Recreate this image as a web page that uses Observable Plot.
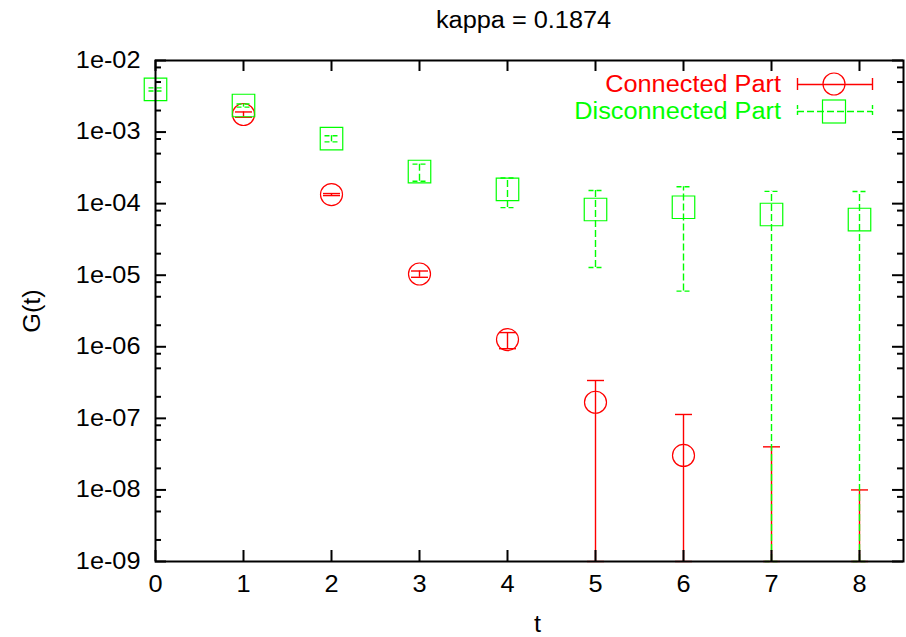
<!DOCTYPE html>
<html>
<head>
<meta charset="utf-8">
<script src="https://cdn.jsdelivr.net/npm/d3@7"></script>
<script src="https://cdn.jsdelivr.net/npm/@observablehq/plot@0.6"></script>
<style>
  html, body { margin: 0; padding: 0; background: #fff; }
  #chart { width: 906px; height: 637px; }
</style>
</head>
<body>
<div id="chart"></div>
<script>
// ---- data ----
const title = "kappa = 0.1874";
const seriesNames = ["Connected Part", "Disconnected Part"];
const seriesColors = ["#ff0000", "#00ff00"];
const xLabel = "t";
const yLabel = "G(t)";

const tValues = [0, 1, 2, 3, 4, 5, 6, 7, 8];
const connectedValue = [null, 1.76e-3, 1.34e-4, 1.04e-5, 1.26e-6, 1.68e-7, 3.03e-8, -1.0e-8, -1.0e-8];
const connectedError = [null, 1.5e-4, 4.4e-6, 1.05e-6, 3.2e-7, 1.7e-7, 8.3e-8, 5.0e-8, 2.0e-8];
const disconnectedValue = [3.94e-3, 2.35e-3, 8.1e-4, 2.81e-4, 1.58e-4, 8.28e-5, 8.9e-5, 7.05e-5, 6.0e-5];
const disconnectedError = [2.0e-4, 1.2e-4, 8.0e-5, 7.5e-5, 7.0e-5, 7.0e-5, 8.3e-5, 7.8e-5, 8.8e-5];

const xTicks = [0, 1, 2, 3, 4, 5, 6, 7, 8];
const xTickLabels = ["0", "1", "2", "3", "4", "5", "6", "7", "8"];
const yTicks = [1e-2, 1e-3, 1e-4, 1e-5, 1e-6, 1e-7, 1e-8, 1e-9];
const yTickLabels = ["1e-02", "1e-03", "1e-04", "1e-05", "1e-06", "1e-07", "1e-08", "1e-09"];
const yMinorFactors = [2, 5, 8];

// ---- layout ----
const W = 906, H = 637;
const mL = 155, mR = 3, mT = 60, mB = 76;
const innerW = W - mL - mR, innerH = H - mT - mB;
const yMin = 1e-9, yMax = 1e-2;

function rows(values, errors) {
  return tValues.map((t, i) => {
    const v = values[i], e = errors[i];
    if (v == null) return null;
    const hi = v + e, lo = v - e;
    return { t, v, hi, lo: lo > yMin ? lo : yMin };
  }).filter(d => d != null);
}
const conn = rows(connectedValue, connectedError);
const disc = rows(disconnectedValue, disconnectedError);

const yMinor = [];
yTicks.slice(1).forEach(d => yMinorFactors.forEach(f => yMinor.push(d * f)));

const capSymbol = {
  draw(context, size) {
    const w = Math.sqrt(size / Math.PI);
    context.moveTo(-w, 0);
    context.lineTo(w, 0);
  }
};

const font = '"Liberation Sans", Arial, Helvetica, sans-serif';
const red = seriesColors[0], green = seriesColors[1];
const dash = "7,3";
const lw = 1.4;

const chart = Plot.plot({
  width: W, height: H,
  marginLeft: mL, marginRight: mR, marginTop: mT, marginBottom: mB,
  style: { fontFamily: font, fontSize: "23px", background: "#fff", color: "#000" },
  x: { domain: [0, 8.5] },
  y: { type: "log", domain: [yMin, yMax] },
  marks: [
    // connected error bars
    Plot.ruleX(conn, { x: "t", y1: "lo", y2: "hi", stroke: red, strokeWidth: lw }),
    Plot.dot(conn, { x: "t", y: "hi", symbol: capSymbol, r: 8.5, stroke: red, fill: "none", strokeWidth: lw }),
    Plot.dot(conn, { x: "t", y: "lo", symbol: capSymbol, r: 8.5, stroke: red, fill: "none", strokeWidth: lw }),
    Plot.dot(conn, { x: "t", y: "v", r: 11, stroke: red, fill: "none", strokeWidth: 1.2 }),
    // disconnected error bars
    Plot.ruleX(disc, { x: "t", y1: "lo", y2: "hi", stroke: green, strokeWidth: lw, strokeDasharray: dash }),
    Plot.dot(disc, { x: "t", y: "hi", symbol: capSymbol, r: 7, stroke: green, fill: "none", strokeWidth: lw, strokeDasharray: "5,3" }),
    Plot.dot(disc, { x: "t", y: "lo", symbol: capSymbol, r: 7, stroke: green, fill: "none", strokeWidth: lw, strokeDasharray: "5,3" }),
    Plot.dot(disc, { x: "t", y: "v", symbol: "square", r: 12.7, stroke: green, fill: "none", strokeWidth: 1.2 }),
    // inward ticks (mirrored on all sides)
    Plot.tickY(yTicks, { y: d => d, insetRight: innerW - 11, stroke: "#000", strokeWidth: 2 }),
    Plot.tickY(yTicks, { y: d => d, insetLeft: innerW - 11, stroke: "#000", strokeWidth: 2 }),
    Plot.tickY(yMinor, { y: d => d, insetRight: innerW - 6, stroke: "#000", strokeWidth: 2 }),
    Plot.tickY(yMinor, { y: d => d, insetLeft: innerW - 6, stroke: "#000", strokeWidth: 2 }),
    Plot.tickX(xTicks, { x: d => d, insetTop: innerH - 11, stroke: "#000", strokeWidth: 2 }),
    Plot.tickX(xTicks, { x: d => d, insetBottom: innerH - 11, stroke: "#000", strokeWidth: 2 }),
    Plot.frame({ stroke: "#000", strokeWidth: 2 }),
    // axis tick labels
    Plot.axisY({ ticks: yTicks, tickSize: 0, tickPadding: 15, label: null,
      tickFormat: d => yTickLabels[yTicks.indexOf(d)] }),
    Plot.axisX({ ticks: xTicks, tickSize: 0, tickPadding: 14, label: null,
      tickFormat: d => xTickLabels[xTicks.indexOf(d)] }),
    // axis titles and chart title
    Plot.text([xLabel], { frameAnchor: "bottom", dx: 8, dy: 63, text: d => d, fill: "#000",
      textAnchor: "middle", lineAnchor: "middle" }),
    Plot.text([yLabel], { frameAnchor: "left", dx: -123, dy: 0, rotate: -90, text: d => d, fill: "#000",
      textAnchor: "middle", lineAnchor: "middle" }),
    Plot.text([title], { frameAnchor: "top", dx: -6, dy: -40, text: d => d, fill: "#000",
      textAnchor: "middle", lineAnchor: "middle" })
  ]
});

document.getElementById("chart").appendChild(chart);

// ---- legend ----
const svg = d3.select(chart);
const lg = svg.append("g").attr("font-family", font).attr("font-size", 23);
const legendRows = [
  { name: seriesNames[0], color: red, y: 84, dashed: false },
  { name: seriesNames[1], color: green, y: 111, dashed: true }
];
const lx1 = 797, lx2 = 872, lcx = 834, textEnd = 781;
legendRows.forEach((r, i) => {
  lg.append("text").attr("x", textEnd).attr("y", r.y).attr("dy", "0.35em")
    .attr("text-anchor", "end").attr("fill", r.color).text(r.name);
  const g = lg.append("g").attr("stroke", r.color).attr("fill", "none").attr("stroke-width", lw);
  const da = r.dashed ? dash : null;
  g.append("line").attr("x1", lx1).attr("x2", lx2).attr("y1", r.y + 0.5).attr("y2", r.y + 0.5).attr("stroke-dasharray", da);
  g.append("line").attr("x1", lx1 + 0.5).attr("x2", lx1 + 0.5).attr("y1", r.y - 6).attr("y2", r.y + 6).attr("stroke-dasharray", r.dashed ? "4,2" : null);
  g.append("line").attr("x1", lx2 + 0.5).attr("x2", lx2 + 0.5).attr("y1", r.y - 6).attr("y2", r.y + 6).attr("stroke-dasharray", r.dashed ? "4,2" : null);
  if (i === 0) g.append("circle").attr("cx", lcx).attr("cy", r.y).attr("r", 11).attr("stroke-width", 1.2);
  else g.append("rect").attr("x", lcx - 11.5).attr("y", r.y - 11).attr("width", 23).attr("height", 23).attr("stroke-width", 1.2);
});

// widen glyphs slightly to match the reference's wide sans font
svg.selectAll("text").each(function () {
  const el = this;
  if (!el.textContent) return;
  const len = el.getComputedTextLength();
  if (len > 0) {
    el.setAttribute("textLength", (len * 1.1).toFixed(1));
    el.setAttribute("lengthAdjust", "spacingAndGlyphs");
  }
});
</script>
</body>
</html>
